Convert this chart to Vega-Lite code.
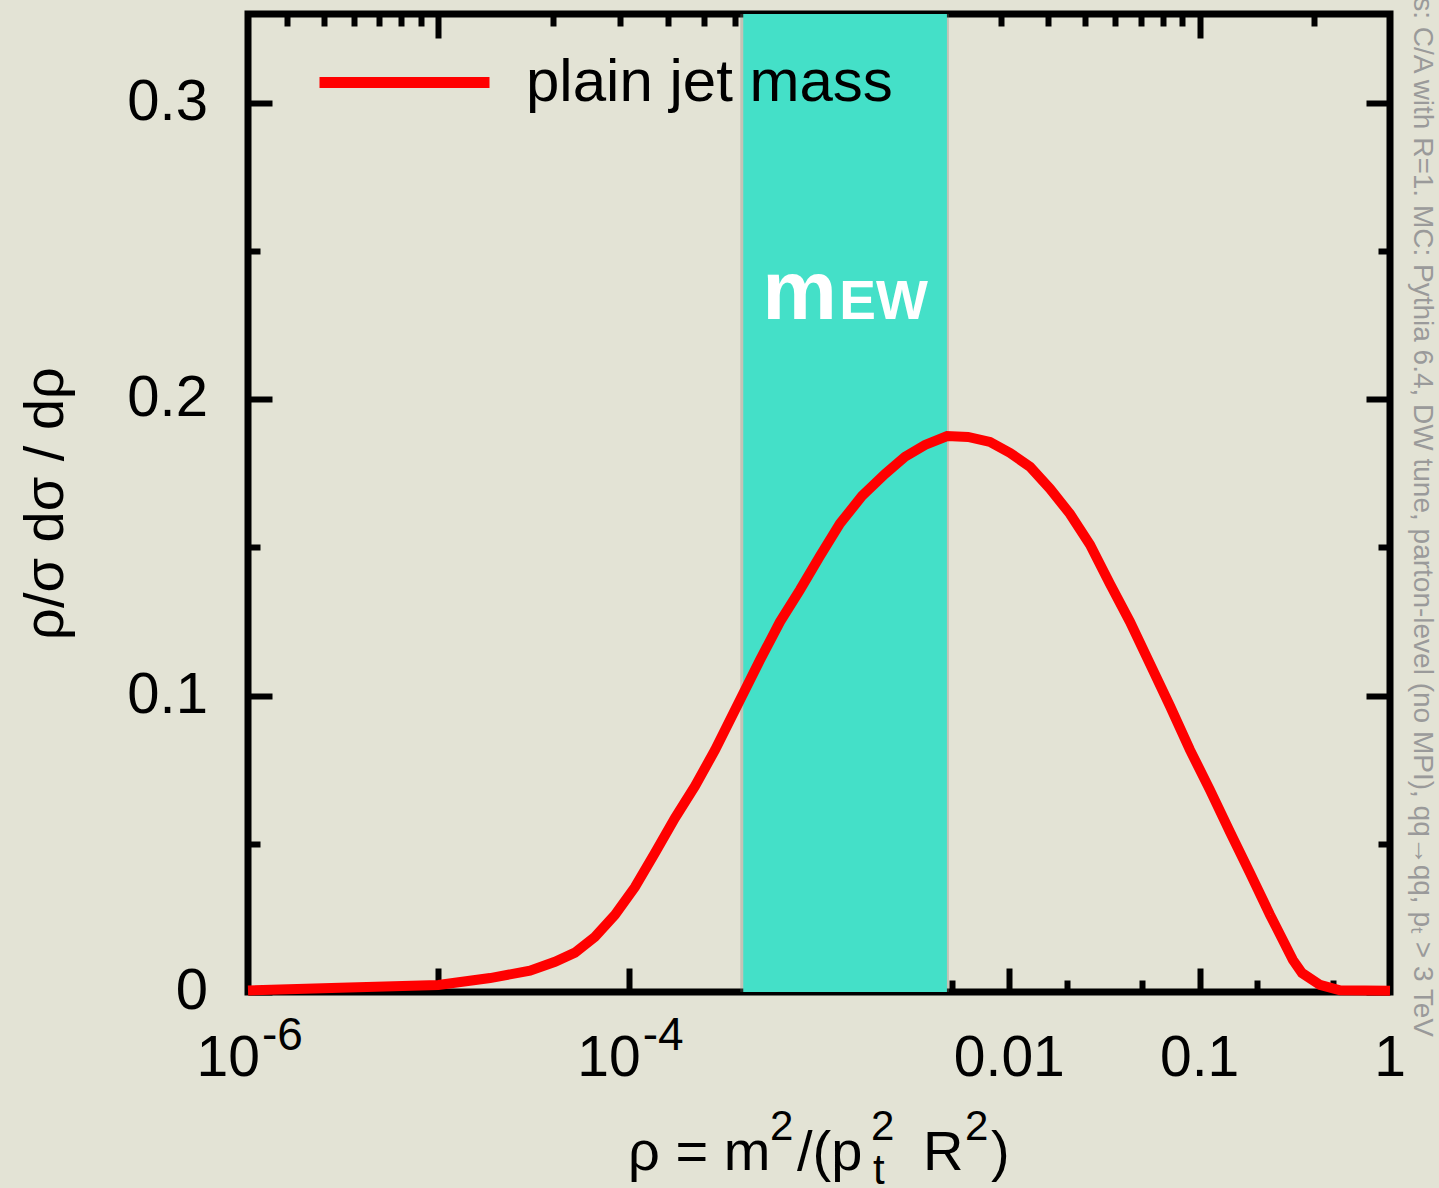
{
  "$schema": "https://vega.github.io/schema/vega-lite/v6.json",
  "width": 1142,
  "height": 978,
  "autosize": {"type": "none"},
  "padding": {"left": 248, "top": 14, "right": 49, "bottom": 196},
  "background": "#E3E3D5",
  "title": {
    "text": "Jets: C/A with R=1. MC: Pythia 6.4, DW tune, parton-level (no MPI), qq→qq, pₜ > 3 TeV",
    "orient": "right",
    "anchor": "end",
    "frame": "group",
    "font": "Liberation Sans",
    "fontSize": 28,
    "fontWeight": "normal",
    "color": "#9A9A9A",
    "baseline": "alphabetic",
    "offset": -24,
    "dx": 45
  },
  "config": {
    "font": "Liberation Sans",
    "view": {"stroke": "#000000", "strokeWidth": 7},
    "axis": {"labels": false, "domain": false, "grid": false, "tickColor": "#000000", "tickWidth": 6, "zindex": 1}
  },
  "datasets": {
    "curve": [
      {"rho": 1e-6, "dens": 0.0005},
      {"rho": 3.04e-6, "dens": 0.0014},
      {"rho": 1e-5, "dens": 0.0024},
      {"rho": 1.87e-5, "dens": 0.0047},
      {"rho": 3.03e-5, "dens": 0.0072},
      {"rho": 4.1e-5, "dens": 0.0102},
      {"rho": 5.22e-5, "dens": 0.0133},
      {"rho": 6.65e-5, "dens": 0.0186},
      {"rho": 8.47e-5, "dens": 0.026},
      {"rho": 1.079e-4, "dens": 0.0354},
      {"rho": 1.374e-4, "dens": 0.0469},
      {"rho": 1.75e-4, "dens": 0.0587},
      {"rho": 2.234e-4, "dens": 0.0695},
      {"rho": 2.844e-4, "dens": 0.0817},
      {"rho": 3.846e-4, "dens": 0.0985},
      {"rho": 4.898e-4, "dens": 0.112},
      {"rho": 6.237e-4, "dens": 0.1249},
      {"rho": 7.943e-4, "dens": 0.1357},
      {"rho": 1.012e-3, "dens": 0.1471},
      {"rho": 1.288e-3, "dens": 0.158},
      {"rho": 1.683e-3, "dens": 0.1674},
      {"rho": 2.223e-3, "dens": 0.1748},
      {"rho": 2.831e-3, "dens": 0.1806},
      {"rho": 3.606e-3, "dens": 0.1846},
      {"rho": 4.71e-3, "dens": 0.1876},
      {"rho": 6.067e-3, "dens": 0.1873},
      {"rho": 7.907e-3, "dens": 0.1856},
      {"rho": 1.009e-2, "dens": 0.1819},
      {"rho": 1.285e-2, "dens": 0.1772},
      {"rho": 1.637e-2, "dens": 0.1698},
      {"rho": 2.084e-2, "dens": 0.1613},
      {"rho": 2.655e-2, "dens": 0.1509},
      {"rho": 3.381e-2, "dens": 0.1377},
      {"rho": 4.305e-2, "dens": 0.1249},
      {"rho": 5.483e-2, "dens": 0.1107},
      {"rho": 6.982e-2, "dens": 0.0965},
      {"rho": 8.892e-2, "dens": 0.0817},
      {"rho": 0.1132, "dens": 0.0682},
      {"rho": 0.1442, "dens": 0.054},
      {"rho": 0.1837, "dens": 0.0402},
      {"rho": 0.2344, "dens": 0.026},
      {"rho": 0.309, "dens": 0.0108},
      {"rho": 0.345, "dens": 0.0064},
      {"rho": 0.4285, "dens": 0.0024},
      {"rho": 0.5458, "dens": 0.0006},
      {"rho": 1.0, "dens": 0.0004}
    ],
    "band": [{"lo": 0.0004, "hi": 0.0047}],
    "yticks": [
      {"v": 0, "t": "0"},
      {"v": 0.1, "t": "0.1"},
      {"v": 0.2, "t": "0.2"},
      {"v": 0.3, "t": "0.3"}
    ],
    "xplain": [
      {"v": 0.01, "t": "0.01"},
      {"v": 0.1, "t": "0.1"},
      {"v": 1, "t": "1"}
    ],
    "xpow": [
      {"v": 1e-6, "e": "-6"},
      {"v": 1e-4, "e": "-4"}
    ],
    "anchor": [{}]
  },
  "layer": [
    {
      "data": {"name": "band"},
      "mark": {"type": "rect", "color": "#7A7A70", "opacity": 0.3, "xOffset": -3, "x2Offset": 2, "y2Offset": 7},
      "encoding": {
        "x": {"field": "lo", "type": "quantitative", "scale": {"type": "log", "domain": [1e-6, 1], "nice": false}, "axis": null},
        "x2": {"field": "hi"}
      }
    },
    {
      "data": {"name": "band"},
      "mark": {"type": "rect", "color": "#44E0C8"},
      "encoding": {
        "x": {
          "field": "lo", "type": "quantitative",
          "scale": {"type": "log", "domain": [1e-6, 1], "nice": false},
          "axis": {
            "orient": "bottom", "title": null,
            "values": [1e-5, 1e-4, 1e-3, 1e-2, 0.1, 0.002, 0.005, 0.02, 0.05, 0.2, 0.5],
            "tickSize": {"condition": {"test": "abs(log(datum.value)/LN10 - round(log(datum.value)/LN10)) < 0.01", "value": -24}, "value": -12}
          }
        },
        "x2": {"field": "hi"}
      }
    },
    {
      "data": {"name": "curve"},
      "mark": {"type": "line", "strokeWidth": 10},
      "encoding": {
        "x": {
          "field": "rho", "type": "quantitative",
          "scale": {"type": "log", "domain": [1e-6, 1], "nice": false},
          "axis": {
            "orient": "top", "title": null,
            "values": [1e-5, 1e-3, 0.1, 1.6e-6, 2.5e-6, 3.6e-6, 4.9e-6, 6.4e-6, 8.1e-6, 4e-5, 9e-5, 1.6e-4, 2.5e-4, 3.6e-4, 4.9e-4, 6.4e-4, 8.1e-4, 0.004, 0.009, 0.016, 0.025, 0.036, 0.049, 0.064, 0.081, 0.4],
            "tickSize": {"condition": {"test": "abs(log(datum.value)/LN10 - round(log(datum.value)/LN10)) < 0.01", "value": -24}, "value": -12}
          }
        },
        "y": {
          "field": "dens", "type": "quantitative",
          "scale": {"domain": [0, 0.33], "nice": false, "zero": false},
          "axis": {
            "orient": "left",
            "values": [0, 0.1, 0.2, 0.3, 0.05, 0.15, 0.25],
            "tickSize": {"condition": {"test": "abs(datum.value*10 - round(datum.value*10)) < 0.01", "value": -24}, "value": -12},
            "title": "ρ/σ dσ / dρ",
            "titleFont": "Liberation Sans",
            "titleFontSize": 56,
            "titleFontWeight": "normal",
            "titleColor": "#000000",
            "titleAngle": -90,
            "titleAlign": "center",
            "titleBaseline": "alphabetic",
            "titleX": -186,
            "titleY": 489
          }
        },
        "color": {
          "datum": "plain jet mass",
          "scale": {"range": ["#FF0000"]},
          "legend": {
            "orient": "none", "legendX": 66, "legendY": -22, "title": null, "padding": 0,
            "symbolType": "stroke", "symbolSize": 28900, "symbolStrokeWidth": 11,
            "labelFont": "Liberation Sans", "labelFontSize": 60, "labelColor": "#000000",
            "labelOffset": 31, "labelLimit": 0
          }
        }
      }
    },
    {
      "data": {"name": "yticks"},
      "mark": {"type": "text", "align": "right", "baseline": "middle", "dx": -40, "fontSize": 58, "color": "#000000"},
      "encoding": {
        "x": {"datum": 1e-6, "type": "quantitative", "scale": {"type": "log", "domain": [1e-6, 1], "nice": false}, "axis": null},
        "y": {
          "field": "v", "type": "quantitative",
          "scale": {"domain": [0, 0.33], "nice": false, "zero": false},
          "axis": {
            "orient": "right", "title": null,
            "values": [0, 0.1, 0.2, 0.3, 0.05, 0.15, 0.25],
            "tickSize": {"condition": {"test": "abs(datum.value*10 - round(datum.value*10)) < 0.01", "value": -24}, "value": -12}
          }
        },
        "text": {"field": "t"}
      }
    },
    {
      "data": {"name": "xplain"},
      "mark": {"type": "text", "align": "center", "baseline": "alphabetic", "dy": 84, "fontSize": 57, "color": "#000000"},
      "encoding": {
        "x": {"field": "v", "type": "quantitative", "scale": {"type": "log", "domain": [1e-6, 1], "nice": false}, "axis": null},
        "y": {"datum": 0, "type": "quantitative", "scale": {"domain": [0, 0.33], "nice": false, "zero": false}, "axis": null},
        "text": {"field": "t"}
      }
    },
    {
      "data": {"name": "xpow"},
      "mark": {"type": "text", "text": "10", "align": "right", "baseline": "alphabetic", "dx": 12, "dy": 84, "fontSize": 57, "color": "#000000"},
      "encoding": {
        "x": {"field": "v", "type": "quantitative", "scale": {"type": "log", "domain": [1e-6, 1], "nice": false}, "axis": null},
        "y": {"datum": 0, "type": "quantitative", "scale": {"domain": [0, 0.33], "nice": false, "zero": false}, "axis": null}
      }
    },
    {
      "data": {"name": "xpow"},
      "mark": {"type": "text", "align": "left", "baseline": "alphabetic", "dx": 14, "dy": 58, "fontSize": 46, "color": "#000000"},
      "encoding": {
        "x": {"field": "v", "type": "quantitative", "scale": {"type": "log", "domain": [1e-6, 1], "nice": false}, "axis": null},
        "y": {"datum": 0, "type": "quantitative", "scale": {"domain": [0, 0.33], "nice": false, "zero": false}, "axis": null},
        "text": {"field": "e"}
      }
    },
    {
      "data": {"name": "band"},
      "mark": {"type": "text", "text": "m", "align": "left", "baseline": "alphabetic", "dx": 19, "fontSize": 84, "fontWeight": "bold", "color": "#FFFFFF"},
      "encoding": {
        "x": {"field": "lo", "type": "quantitative", "scale": {"type": "log", "domain": [1e-6, 1], "nice": false}, "axis": null},
        "y": {"datum": 0.227, "type": "quantitative", "scale": {"domain": [0, 0.33], "nice": false, "zero": false}, "axis": null}
      }
    },
    {
      "data": {"name": "band"},
      "mark": {"type": "text", "text": "EW", "align": "right", "baseline": "alphabetic", "dx": -19, "fontSize": 55, "fontWeight": "bold", "color": "#FFFFFF"},
      "encoding": {
        "x": {"field": "hi", "type": "quantitative", "scale": {"type": "log", "domain": [1e-6, 1], "nice": false}, "axis": null},
        "y": {"datum": 0.227, "type": "quantitative", "scale": {"domain": [0, 0.33], "nice": false, "zero": false}, "axis": null}
      }
    },
    {
      "data": {"name": "anchor"},
      "mark": {"type": "text", "text": "ρ = m", "align": "left", "baseline": "alphabetic", "dx": -191, "dy": 178, "fontSize": 56, "color": "#000000"},
      "encoding": {
        "x": {"datum": 0.001, "type": "quantitative", "scale": {"type": "log", "domain": [1e-6, 1], "nice": false}, "axis": null},
        "y": {"datum": 0, "type": "quantitative", "scale": {"domain": [0, 0.33], "nice": false, "zero": false}, "axis": null}
      }
    },
    {
      "data": {"name": "anchor"},
      "mark": {"type": "text", "text": "2", "align": "left", "baseline": "alphabetic", "dx": -49, "dy": 148, "fontSize": 42, "color": "#000000"},
      "encoding": {
        "x": {"datum": 0.001, "type": "quantitative", "scale": {"type": "log", "domain": [1e-6, 1], "nice": false}, "axis": null},
        "y": {"datum": 0, "type": "quantitative", "scale": {"domain": [0, 0.33], "nice": false, "zero": false}, "axis": null}
      }
    },
    {
      "data": {"name": "anchor"},
      "mark": {"type": "text", "text": "/(p", "align": "left", "baseline": "alphabetic", "dx": -22, "dy": 178, "fontSize": 56, "color": "#000000"},
      "encoding": {
        "x": {"datum": 0.001, "type": "quantitative", "scale": {"type": "log", "domain": [1e-6, 1], "nice": false}, "axis": null},
        "y": {"datum": 0, "type": "quantitative", "scale": {"domain": [0, 0.33], "nice": false, "zero": false}, "axis": null}
      }
    },
    {
      "data": {"name": "anchor"},
      "mark": {"type": "text", "text": "2", "align": "left", "baseline": "alphabetic", "dx": 52, "dy": 148, "fontSize": 42, "color": "#000000"},
      "encoding": {
        "x": {"datum": 0.001, "type": "quantitative", "scale": {"type": "log", "domain": [1e-6, 1], "nice": false}, "axis": null},
        "y": {"datum": 0, "type": "quantitative", "scale": {"domain": [0, 0.33], "nice": false, "zero": false}, "axis": null}
      }
    },
    {
      "data": {"name": "anchor"},
      "mark": {"type": "text", "text": "t", "align": "left", "baseline": "alphabetic", "dx": 54, "dy": 192, "fontSize": 42, "color": "#000000"},
      "encoding": {
        "x": {"datum": 0.001, "type": "quantitative", "scale": {"type": "log", "domain": [1e-6, 1], "nice": false}, "axis": null},
        "y": {"datum": 0, "type": "quantitative", "scale": {"domain": [0, 0.33], "nice": false, "zero": false}, "axis": null}
      }
    },
    {
      "data": {"name": "anchor"},
      "mark": {"type": "text", "text": "R", "align": "left", "baseline": "alphabetic", "dx": 104, "dy": 178, "fontSize": 56, "color": "#000000"},
      "encoding": {
        "x": {"datum": 0.001, "type": "quantitative", "scale": {"type": "log", "domain": [1e-6, 1], "nice": false}, "axis": null},
        "y": {"datum": 0, "type": "quantitative", "scale": {"domain": [0, 0.33], "nice": false, "zero": false}, "axis": null}
      }
    },
    {
      "data": {"name": "anchor"},
      "mark": {"type": "text", "text": "2", "align": "left", "baseline": "alphabetic", "dx": 146, "dy": 148, "fontSize": 42, "color": "#000000"},
      "encoding": {
        "x": {"datum": 0.001, "type": "quantitative", "scale": {"type": "log", "domain": [1e-6, 1], "nice": false}, "axis": null},
        "y": {"datum": 0, "type": "quantitative", "scale": {"domain": [0, 0.33], "nice": false, "zero": false}, "axis": null}
      }
    },
    {
      "data": {"name": "anchor"},
      "mark": {"type": "text", "text": ")", "align": "left", "baseline": "alphabetic", "dx": 172, "dy": 178, "fontSize": 56, "color": "#000000"},
      "encoding": {
        "x": {"datum": 0.001, "type": "quantitative", "scale": {"type": "log", "domain": [1e-6, 1], "nice": false}, "axis": null},
        "y": {"datum": 0, "type": "quantitative", "scale": {"domain": [0, 0.33], "nice": false, "zero": false}, "axis": null}
      }
    }
  ],
  "resolve": {"axis": {"x": "independent", "y": "independent"}}
}
